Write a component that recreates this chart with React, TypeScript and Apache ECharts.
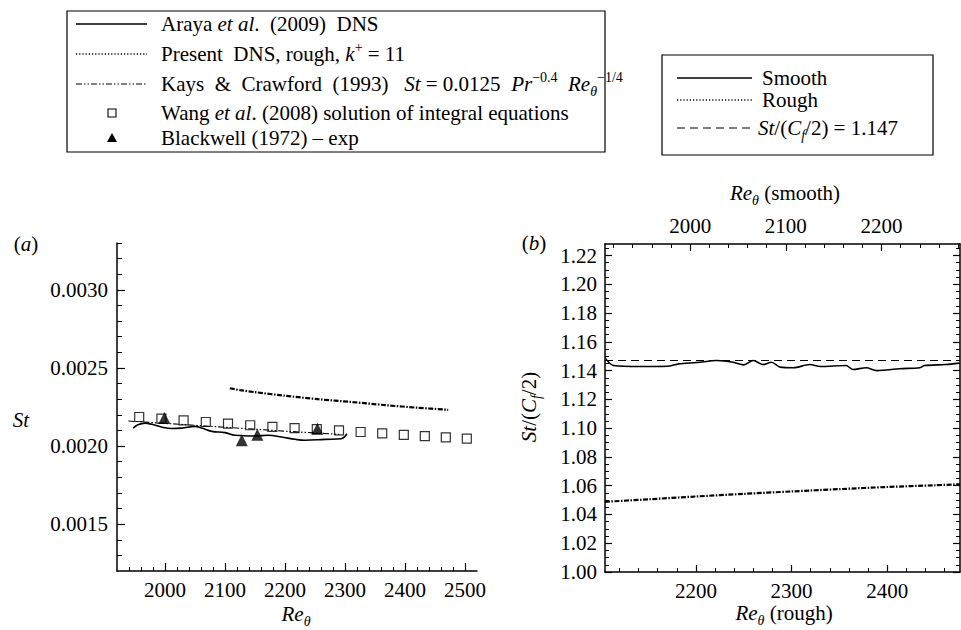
import React, { useEffect, useRef } from "react";
import * as echarts from "echarts";

// ---------- Panel (a) data ----------
const arayaRe = [1947, 1955, 1967, 1978, 1994, 2011, 2028, 2050, 2061, 2078, 2100, 2117, 2150, 2172, 2194, 2217, 2233, 2267, 2294, 2300, 2303];
const arayaSt = [0.002115, 0.002137, 0.002147, 0.002139, 0.002122, 0.002112, 0.002115, 0.002126, 0.002115, 0.002094, 0.002086, 0.002069, 0.002064, 0.002069, 0.002058, 0.002043, 0.002037, 0.002043, 0.002047, 0.002062, 0.00208];

const roughRe = [2108, 2125, 2150, 2200, 2255, 2311, 2367, 2422, 2472];
const roughSt = [0.00237, 0.002358, 0.002345, 0.002322, 0.0023, 0.002282, 0.002262, 0.002245, 0.002232];

const kaysRe = [1939, 2000, 2050, 2100, 2150, 2200, 2250, 2290];
const kaysSt = [0.00216, 0.002145, 0.002133, 0.00212, 0.002108, 0.002095, 0.002084, 0.002075];

const wangRe = [1957, 1994, 2031, 2068, 2105, 2142, 2179, 2216, 2253, 2290, 2326, 2362, 2398, 2433, 2468, 2503];
const wangSt = [0.002186, 0.002176, 0.002165, 0.002154, 0.002144, 0.002133, 0.002123, 0.002115, 0.002108, 0.0021, 0.00209, 0.002081, 0.002071, 0.002063, 0.002056, 0.002048];

const blackwellRe = [1999, 2128, 2154, 2254];
const blackwellSt = [0.00218, 0.002037, 0.002073, 0.00211];

// ---------- Panel (b) data ----------
const smoothRe = [1911.5, 1920, 1948, 1976, 1988, 2007, 2028, 2045, 2056, 2066, 2076, 2085, 2094, 2108, 2125, 2136, 2163, 2170, 2184, 2195, 2219, 2240, 2245, 2267, 2281];
const smoothRatio = [1.1485, 1.1435, 1.1428, 1.143, 1.1447, 1.1456, 1.147, 1.1458, 1.144, 1.147, 1.1442, 1.1458, 1.1424, 1.142, 1.1442, 1.1428, 1.1435, 1.1408, 1.142, 1.14, 1.1413, 1.142, 1.1435, 1.1442, 1.1452];

const roughBRe = [2105, 2150, 2200, 2250, 2300, 2350, 2400, 2450, 2476];
const roughBRatio = [1.0488, 1.0505, 1.0525, 1.0543, 1.056, 1.0576, 1.0591, 1.0603, 1.061];

const constRatio = 1.147;
const constRe = [2105, 2476];

// ---------- Tick labels ----------
const aXTicks = [2000, 2100, 2200, 2300, 2400, 2500];
const aYTicks = [0.0015, 0.002, 0.0025, 0.003];
const bXTicks = [2200, 2300, 2400];
const bTopTicks = [2000, 2100, 2200];
const bYTicks = [1.0, 1.02, 1.04, 1.06, 1.08, 1.1, 1.12, 1.14, 1.16, 1.18, 1.2, 1.22];

const range = (a: number, b: number, step: number, dec: number) => {
  const out: number[] = [];
  const n = Math.round((b - a) / step);
  for (let i = 0; i <= n; i++) out.push(+(a + i * step).toFixed(dec));
  return out;
};

const FONT = "Liberation Serif";
const FS = 21;
const BLACK = "#000";

const rich = {
  i: { fontStyle: "italic", fontFamily: FONT, fontSize: FS },
  sub: { fontSize: 14, fontFamily: FONT, verticalAlign: "bottom", lineHeight: 14 },
  isub: { fontSize: 14, fontFamily: FONT, fontStyle: "italic", verticalAlign: "bottom", lineHeight: 14 },
  sup: { fontSize: 14, fontFamily: FONT, verticalAlign: "top", lineHeight: 14 },
};

const txt = (x: number, y: number, text: string, extra: any = {}) => ({
  type: "text",
  x,
  y,
  rotation: extra.rotation || 0,
  style: {
    text,
    fontFamily: FONT,
    fontSize: FS,
    lineHeight: 28,
    fill: BLACK,
    align: extra.align || "left",
    verticalAlign: "middle",
    rich,
  },
});

const zip = (a: number[], b: number[]) => a.map((v, i) => [v, b[i]]);
const plain = (v: number) => String(v);

const majorAxis = (extra: any) => ({
  type: "value",
  axisLine: { show: true, onZero: false, lineStyle: { color: BLACK, width: 1.5 } },
  splitLine: { show: false },
  ...extra,
});

const majorTick = (vals: number[], len: number) => ({
  show: true, inside: true, length: len, customValues: vals, lineStyle: { color: BLACK, width: 1.2 },
});

const majorLabel = (vals: number[], fmt: (v: number) => string, margin = 8) => ({
  color: BLACK, fontFamily: FONT, fontSize: FS, margin, customValues: vals, formatter: fmt,
});

const minorAxis = (extra: any, ticks: number[], len = 4) => ({
  type: "value",
  axisLine: { show: false },
  axisTick: { show: true, inside: true, length: len, customValues: ticks, lineStyle: { color: BLACK, width: 1 } },
  axisLabel: { show: false },
  splitLine: { show: false },
  ...extra,
});

export default function App() {
  const ref = useRef<HTMLDivElement>(null);
  useEffect(() => {
    if (!ref.current) return;
    const chart = echarts.init(ref.current, null, { renderer: "svg" });

    const legendRows1 = [24, 54, 84, 113, 138];
    const legendRows2 = [78, 100, 128];

    const option: any = {
      animation: false,
      backgroundColor: "#fff",
      grid: [
        { left: 117, top: 243, width: 360, height: 328 },
        { left: 605, top: 244, width: 355, height: 328 },
      ],
      xAxis: [
        majorAxis({ gridIndex: 0, min: 1920, max: 2520, position: "bottom",
          axisTick: majorTick(aXTicks, 8), axisLabel: majorLabel(aXTicks, plain) }),
        minorAxis({ gridIndex: 0, min: 1920, max: 2520, position: "bottom" }, range(1940, 2500, 20, 0)),
        majorAxis({ gridIndex: 1, min: 2105, max: 2476, position: "bottom",
          axisTick: majorTick(bXTicks, 7), axisLabel: majorLabel(bXTicks, plain) }),
        minorAxis({ gridIndex: 1, min: 2105, max: 2476, position: "bottom" }, range(2120, 2460, 20, 0)),
        majorAxis({ gridIndex: 1, min: 1911, max: 2282, position: "top",
          axisTick: majorTick(bTopTicks, 7), axisLabel: majorLabel(bTopTicks, plain) }),
        minorAxis({ gridIndex: 1, min: 1911, max: 2282, position: "top" }, range(1920, 2280, 20, 0)),
      ],
      yAxis: [
        majorAxis({ gridIndex: 0, min: 0.0012, max: 0.0033, position: "left",
          axisTick: majorTick(aYTicks, 8), axisLabel: majorLabel(aYTicks, (v: number) => v.toFixed(4), 9) }),
        minorAxis({ gridIndex: 0, min: 0.0012, max: 0.0033, position: "left" }, range(0.0013, 0.0033, 0.0001, 4), 5),
        majorAxis({ gridIndex: 1, min: 1.0, max: 1.228, position: "left",
          axisTick: majorTick(bYTicks, 7), axisLabel: majorLabel(bYTicks, (v: number) => v.toFixed(2)) }),
        minorAxis({ gridIndex: 1, min: 1.0, max: 1.228, position: "left" }, range(1.005, 1.225, 0.005, 3)),
        majorAxis({ gridIndex: 1, min: 1.0, max: 1.228, position: "right",
          axisTick: majorTick(bYTicks, 7), axisLabel: { show: false } }),
        minorAxis({ gridIndex: 1, min: 1.0, max: 1.228, position: "right" }, range(1.005, 1.225, 0.005, 3)),
      ],
      series: [
        { name: "Araya", type: "line", xAxisIndex: 0, yAxisIndex: 0, data: zip(arayaRe, arayaSt), showSymbol: false, smooth: 0.4,
          lineStyle: { color: BLACK, width: 1.6 } },
        { name: "Kays", type: "line", xAxisIndex: 0, yAxisIndex: 0, data: zip(kaysRe, kaysSt), showSymbol: false,
          lineStyle: { color: BLACK, width: 1.1, type: [6, 2, 1.5, 2, 1.5, 2] } },
        { name: "Present rough", type: "line", xAxisIndex: 0, yAxisIndex: 0, data: zip(roughRe, roughSt), showSymbol: false, smooth: 0.3,
          lineStyle: { color: BLACK, width: 2.2, type: [5, 1.5, 1.5, 1.5] } },
        { name: "Wang", type: "scatter", xAxisIndex: 0, yAxisIndex: 0, data: zip(wangRe, wangSt), symbol: "rect", symbolSize: 9,
          itemStyle: { color: "#fff", borderColor: BLACK, borderWidth: 1.2 } },
        { name: "Blackwell", type: "scatter", xAxisIndex: 0, yAxisIndex: 0, data: zip(blackwellRe, blackwellSt), symbol: "triangle", symbolSize: 12,
          itemStyle: { color: BLACK } },
        { name: "Smooth", type: "line", xAxisIndex: 4, yAxisIndex: 2, data: zip(smoothRe, smoothRatio), showSymbol: false, smooth: 0.3,
          lineStyle: { color: BLACK, width: 1.6 } },
        { name: "Rough", type: "line", xAxisIndex: 2, yAxisIndex: 2, data: zip(roughBRe, roughBRatio), showSymbol: false, smooth: 0.3,
          lineStyle: { color: BLACK, width: 2.2, type: [5, 1.5, 1.5, 1.5] } },
        { name: "Const", type: "line", xAxisIndex: 2, yAxisIndex: 2, data: constRe.map((r) => [r, constRatio]), showSymbol: false,
          lineStyle: { color: BLACK, width: 1.1, type: [8, 5] } },
      ],
      graphic: [
        // Legend 1
        { type: "rect", shape: { x: 67, y: 11, width: 538, height: 141 }, style: { fill: "none", stroke: BLACK, lineWidth: 1.2 } },
        { type: "line", shape: { x1: 76, y1: legendRows1[0], x2: 147, y2: legendRows1[0] }, style: { stroke: BLACK, lineWidth: 1.6 } },
        { type: "line", shape: { x1: 76, y1: legendRows1[1], x2: 147, y2: legendRows1[1] }, style: { stroke: BLACK, lineWidth: 1.3, lineDash: [1.2, 2] } },
        { type: "line", shape: { x1: 76, y1: legendRows1[2], x2: 147, y2: legendRows1[2] }, style: { stroke: BLACK, lineWidth: 1.1, lineDash: [6, 2, 1.5, 2, 1.5, 2] } },
        { type: "rect", shape: { x: 108, y: legendRows1[3] - 4, width: 8, height: 8 }, style: { fill: "#fff", stroke: BLACK, lineWidth: 1.1 } },
        { type: "polygon", shape: { points: [[112, legendRows1[4] - 5], [107, legendRows1[4] + 4], [117, legendRows1[4] + 4]] }, style: { fill: BLACK } },
        txt(161, legendRows1[0], "Araya {i|et al}.  (2009)  DNS"),
        txt(161, legendRows1[1], "Present  DNS, rough, {i|k}{sup|+} = 11"),
        txt(161, legendRows1[2], "Kays  &  Crawford  (1993)   {i|St} = 0.0125  {i|Pr}{sup|−0.4}  {i|Re}{isub|θ}{sup|−1/4}"),
        txt(161, legendRows1[3], "Wang {i|et al}. (2008) solution of integral equations"),
        txt(161, legendRows1[4], "Blackwell (1972) – exp"),
        // Legend 2
        { type: "rect", shape: { x: 662, y: 55, width: 271, height: 100 }, style: { fill: "none", stroke: BLACK, lineWidth: 1.2 } },
        { type: "line", shape: { x1: 677, y1: legendRows2[0], x2: 752, y2: legendRows2[0] }, style: { stroke: BLACK, lineWidth: 1.6 } },
        { type: "line", shape: { x1: 677, y1: legendRows2[1], x2: 752, y2: legendRows2[1] }, style: { stroke: BLACK, lineWidth: 1.3, lineDash: [1.2, 2] } },
        { type: "line", shape: { x1: 677, y1: legendRows2[2], x2: 752, y2: legendRows2[2] }, style: { stroke: BLACK, lineWidth: 1.1, lineDash: [8, 5] } },
        txt(762, legendRows2[0], "Smooth"),
        txt(762, legendRows2[1], "Rough"),
        txt(758, legendRows2[2], "{i|St}/({i|C}{isub|f}/2) = 1.147"),
        // Axis titles
        txt(26, 244, "({i|a})", { align: "center" }),
        txt(21, 420, "{i|St}", { align: "center" }),
        txt(296, 614, "{i|Re}{isub|θ}", { align: "center" }),
        txt(534, 243, "({i|b})", { align: "center" }),
        txt(529, 407, "{i|St}/({i|C}{isub|f}/2)", { align: "center", rotation: Math.PI / 2 }),
        txt(784, 613, "{i|Re}{isub|θ} (rough)", { align: "center" }),
        txt(785, 193, "{i|Re}{isub|θ} (smooth)", { align: "center" }),
      ],
    };
    chart.setOption(option);
    return () => chart.dispose();
  }, []);
  return <div ref={ref} style={{ position: "absolute", left: 0, top: 0, width: 961, height: 630 }} />;
}
